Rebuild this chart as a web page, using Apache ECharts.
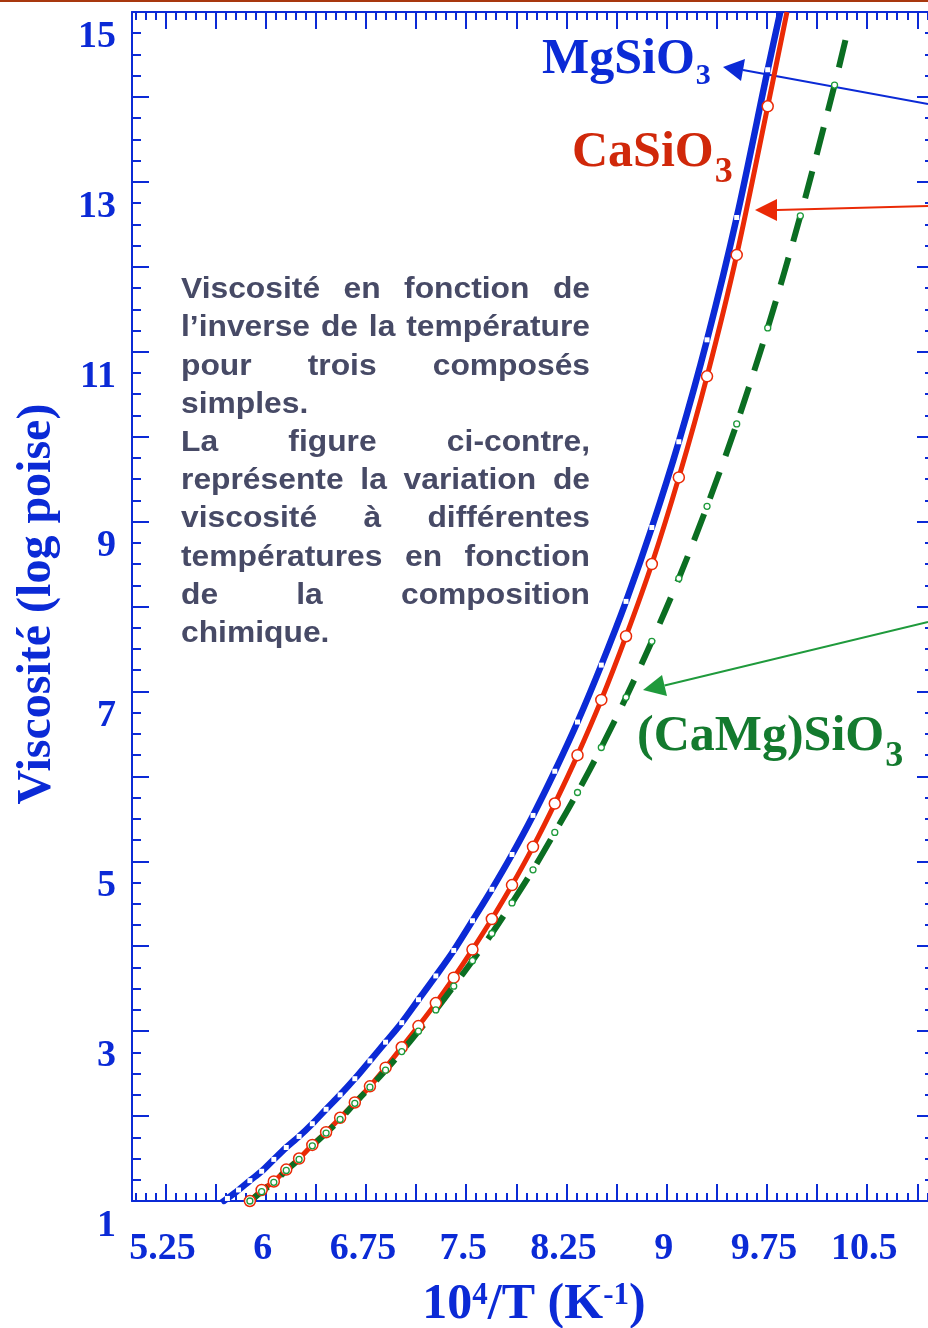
<!DOCTYPE html>
<html>
<head>
<meta charset="utf-8">
<script src="https://cdn.jsdelivr.net/npm/echarts@6/dist/echarts.min.js"></script>
<style>
  html, body { margin: 0; padding: 0; background: #ffffff; }
  #chart { width: 928px; height: 1328px; }
</style>
</head>
<body>
<div id="chart"></div>
<script>
// 10^4/T (K^-1) at each measured temperature, from 1750 K down to 975 K in 25 K steps
const invTemp = [5.714, 5.797, 5.882, 5.970, 6.061, 6.154, 6.250, 6.349, 6.452, 6.557,
                 6.667, 6.780, 6.897, 7.018, 7.143, 7.273, 7.407, 7.547, 7.692, 7.843,
                 8.000, 8.163, 8.333, 8.511, 8.696, 8.889, 9.091, 9.302, 9.524, 9.756,
                 10.000, 10.256];

// log viscosity (poise); each list starts at invTemp[offset]
const mgSiO3 = [1.03, 1.13, 1.24, 1.35, 1.49, 1.63, 1.76, 1.91, 2.08, 2.25,
                2.44, 2.65, 2.87, 3.10, 3.37, 3.65, 3.95, 4.30, 4.67, 5.08,
                5.54, 6.06, 6.64, 7.31, 8.06, 8.93, 9.94, 11.14, 12.58, 14.32];
const mgOffset = 0;
const caSiO3 = [1.00, 1.13, 1.23, 1.37, 1.50, 1.66, 1.81, 1.98, 2.16, 2.35,
                2.57, 2.81, 3.06, 3.33, 3.63, 3.96, 4.32, 4.72, 5.17, 5.68,
                6.25, 6.90, 7.65, 8.50, 9.52, 10.71, 12.14, 13.89];
const caOffset = 2;
const caMgSiO3 = [1.00, 1.11, 1.22, 1.36, 1.49, 1.65, 1.80, 1.96, 2.15, 2.34,
                  2.54, 2.76, 3.00, 3.25, 3.53, 3.83, 4.15, 4.51, 4.90, 5.34,
                  5.81, 6.34, 6.93, 7.59, 8.33, 9.18, 10.15, 11.28, 12.60, 14.14];
const caMgOffset = 2;

// where each fitted curve runs out of the frame (low end, high end)
const mgEnds = [[5.67, 0.98], [9.85, 15.0]];
const caEnds = [[5.85, 0.97], [9.90, 15.0]];
const caMgEnds = [[5.85, 0.97], [10.36, 14.82]];

// axis labels
const xLabels = [5.25, 6, 6.75, 7.5, 8.25, 9, 9.75, 10.5];
const yLabels = [1, 3, 5, 7, 9, 11, 13, 15];

// side note
const noteLines = [
  'Viscosité en fonction de',
  'l’inverse de la température',
  'pour trois composés',
  'simples.',
  'La figure ci-contre,',
  'représente la variation de',
  'viscosité à différentes',
  'températures en fonction',
  'de la composition',
  'chimique.'
];

const BLUE = '#0b2ad6';
const RED = '#ea2a06';
const RED_TEXT = '#d0280a';
const GREEN = '#0b6e22';
const GREEN_TEXT = '#137a2e';
const GREEN_ARROW = '#1f9a3c';
const NOTE = '#474a66';
const SERIF = '"Liberation Serif", "Times New Roman", serif';
const SANS = '"Liberation Sans", Arial, sans-serif';

// tick positions: long ticks every 0.375, short ticks every 0.075 starting at 5.025
const xMajorTicks = [];
for (let i = 0; i < 16; i++) xMajorTicks.push(+(5.25 + i * 0.375).toFixed(3));
const xMinorTicks = [];
for (let i = 0; i < 80; i++) xMinorTicks.push(+(5.025 + i * 0.075).toFixed(3));

function curve(vals, offset, ends) {
  const pts = vals.map((v, i) => [invTemp[offset + i], v]);
  return [{ value: ends[0], symbol: 'none' }].concat(pts, [{ value: ends[1], symbol: 'none' }]);
}

const tickStyle = { color: BLUE, width: 2 };
const lineStyleAxis = { color: BLUE, width: 2 };
const LABEL_SIZE = 38;

function xAxisDef(position, ticks, len, withLine, withLabels) {
  return {
    type: 'value', min: 5, max: 11, position: position,
    axisLine: { show: withLine, lineStyle: lineStyleAxis },
    axisTick: { show: true, inside: true, length: len, lineStyle: tickStyle, customValues: ticks },
    axisLabel: withLabels ? {
      show: true, customValues: xLabels, margin: 29,
      color: BLUE, fontFamily: SERIF, fontWeight: 'bold', fontSize: LABEL_SIZE,
      padding: [0, 6, 0, 0]
    } : { show: false },
    splitLine: { show: false }
  };
}

function yAxisDef(position, withLabels) {
  return {
    type: 'value', min: 1, max: 15, interval: 1, position: position,
    axisLine: { show: true, lineStyle: lineStyleAxis },
    axisTick: { show: true, inside: true, length: 17, lineStyle: tickStyle },
    minorTick: { show: true, splitNumber: 4, length: 9, lineStyle: tickStyle },
    axisLabel: withLabels ? {
      show: true, margin: 16, verticalAlign: 'top', lineHeight: 50,
      color: BLUE, fontFamily: SERIF, fontWeight: 'bold', fontSize: LABEL_SIZE,
      formatter: v => (yLabels.indexOf(v) >= 0 ? String(v) : '')
    } : { show: false },
    splitLine: { show: false },
    minorSplitLine: { show: false }
  };
}

const measureCtx = document.createElement('canvas').getContext('2d');

// justified side note, word by word
const noteFont = 'bold 30px ' + SANS;
const noteScaleX = 1.06;
const noteWidth = 409 / noteScaleX;
const noteChildren = [];
measureCtx.font = noteFont;
noteLines.forEach((line, li) => {
  const y = 290 + li * 38.2;
  const words = line.split(' ');
  const justify = !/\.$/.test(line) && words.length > 1;
  if (!justify) {
    noteChildren.push({ type: 'text', x: 0, y: y,
      style: { text: line, font: noteFont, fill: NOTE, align: 'left', verticalAlign: 'middle' } });
    return;
  }
  const widths = words.map(w => measureCtx.measureText(w).width);
  const total = widths.reduce((a, b) => a + b, 0);
  const gap = (noteWidth - total) / (words.length - 1);
  let x = 0;
  words.forEach((w, wi) => {
    noteChildren.push({ type: 'text', x: x, y: y,
      style: { text: w, font: noteFont, fill: NOTE, align: 'left', verticalAlign: 'middle' } });
    x += widths[wi] + gap;
  });
});

// chemical formula with a lowered index digit
function formula(x, y, main, sub, color, subSize, drop) {
  const mainFont = 'bold 50px ' + SERIF;
  measureCtx.font = mainFont;
  const w = measureCtx.measureText(main).width;
  return [
    { type: 'text', x: x, y: y,
      style: { text: main, font: mainFont, fill: color, align: 'left', verticalAlign: 'middle' } },
    { type: 'text', x: x + w + 1, y: y + drop,
      style: { text: sub, font: 'bold ' + subSize + 'px ' + SERIF, fill: color,
               align: 'left', verticalAlign: 'middle' } }
  ];
}

function arrow(tip, baseA, baseB, tail, color) {
  const bx = (baseA[0] + baseB[0]) / 2, by = (baseA[1] + baseB[1]) / 2;
  return [
    { type: 'line', shape: { x1: bx, y1: by, x2: tail[0], y2: tail[1] },
      style: { stroke: color, lineWidth: 2 } },
    { type: 'polygon', shape: { points: [tip, baseA, baseB] }, style: { fill: color } }
  ];
}

const graphics = [
  { type: 'rect', shape: { x: 0, y: 0, width: 928, height: 2 }, style: { fill: '#a8380e' } },
  { type: 'group', x: 181, y: 0, scaleX: noteScaleX, children: noteChildren },
  {
    type: 'text', x: 38, y: 604, rotation: Math.PI / 2,
    style: { text: 'Viscosité (log poise)', fontFamily: SERIF, fontWeight: 'bold', fontSize: 48,
             fill: BLUE, align: 'center', verticalAlign: 'middle' }
  },
  {
    type: 'text', x: 534, y: 1305,
    style: {
      text: '{a|10}{s|4}{a|/T (K}{s|-1}{a|)}',
      align: 'center', verticalAlign: 'middle',
      rich: {
        a: { fontFamily: SERIF, fontWeight: 'bold', fontSize: 50, lineHeight: 50, fill: BLUE },
        s: { fontFamily: SERIF, fontWeight: 'bold', fontSize: 31, verticalAlign: 'top', fill: BLUE }
      }
    }
  }
].concat(
  formula(542, 60, 'MgSiO', '3', BLUE, 30, 16),
  formula(572, 153, 'CaSiO', '3', RED_TEXT, 36, 20),
  formula(637, 737, '(CaMg)SiO', '3', GREEN_TEXT, 36, 20),
  arrow([723, 67], [741, 81], [745, 59], [928, 104], BLUE),
  arrow([755, 210], [777, 199], [777, 221], [928, 206], RED),
  arrow([643, 690], [662, 675], [667, 696], [928, 622], GREEN_ARROW)
);

const chart = echarts.init(document.getElementById('chart'), null, { renderer: 'canvas' });
chart.setOption({
  animation: false,
  backgroundColor: '#ffffff',
  grid: { left: 132, top: 12, right: -6, bottom: 127, containLabel: false, outerBoundsMode: 'none' },
  xAxis: [
    xAxisDef('bottom', xMajorTicks, 17, true, true),
    xAxisDef('bottom', xMinorTicks, 8, false, false),
    xAxisDef('top', xMajorTicks, 17, true, false),
    xAxisDef('top', xMinorTicks, 8, false, false)
  ],
  yAxis: [yAxisDef('left', true), yAxisDef('right', false)],
  series: [
    {
      name: 'MgSiO3', type: 'line', smooth: 0.3, clip: true,
      data: curve(mgSiO3, mgOffset, mgEnds),
      lineStyle: { color: BLUE, width: 6.5 },
      symbol: 'rect', symbolSize: 5,
      itemStyle: { color: '#ffffff', borderWidth: 0 }
    },
    {
      name: 'CaSiO3', type: 'line', smooth: 0.3, clip: true,
      data: curve(caSiO3, caOffset, caEnds),
      lineStyle: { color: RED, width: 5 },
      symbol: 'circle', symbolSize: 11,
      itemStyle: { color: '#ffffff', borderColor: RED, borderWidth: 1.5 }
    },
    {
      name: '(CaMg)SiO3', type: 'line', smooth: 0.3, clip: true,
      data: curve(caMgSiO3, caMgOffset, caMgEnds),
      lineStyle: { color: GREEN, width: 6, type: [28, 17], cap: 'butt' },
      symbol: 'circle', symbolSize: 6,
      itemStyle: { color: '#ffffff', borderColor: '#1d9a3a', borderWidth: 1.3 }
    }
  ],
  graphic: graphics
});
</script>
</body>
</html>
